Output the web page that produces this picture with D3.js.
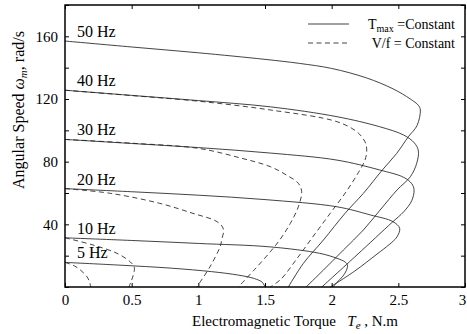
<!DOCTYPE html>
<html>
<head>
<meta charset="utf-8">
<script src="https://cdn.jsdelivr.net/npm/d3@7"></script>
<style>
  body { margin: 0; background: #fff; }
  svg, svg text { font-family: "Liberation Serif", "Times New Roman", "DejaVu Serif", serif; }
  svg { display: block; }
</style>
</head>
<body>
<svg id="chart" width="467" height="334"></svg>
<script>

const FONT = '"Liberation Serif", "Times New Roman", "DejaVu Serif", serif'

// frequency labels, top to bottom
const hzLabels = ['50 Hz', '40 Hz', '30 Hz', '20 Hz', '10 Hz', '5 Hz']

// T_max = constant  ->  [torque N.m, speed rad/s]
const solid50 = [[0,157],[0.5,153.2],[1.0,149.5],[1.5,145.3],[1.76,142.7],[2.0,139.5],[2.26,133.5],[2.46,126.5],[2.59,120],[2.65,116],[2.665,113],[2.64,103],[2.575,95.9],[2.488,85.3],[2.376,74.3],[2.238,59.8],[2.10,47],[1.938,30],[1.788,15.1],[1.675,0]]
const solid40 = [[0,125.6],[0.5,122.3],[1.0,119],[1.54,115],[2.04,108.7],[2.36,102.3],[2.54,97],[2.62,92],[2.65,87],[2.638,79],[2.59,70.4],[2.49,61.9],[2.363,49.1],[2.238,36.4],[2.088,23.6],[1.938,10.8],[1.808,0]]
const solid30 = [[0,94.2],[0.5,91.6],[1.0,89],[1.54,85.5],[2.04,81],[2.36,74.7],[2.54,70],[2.6,66],[2.618,62],[2.6,55],[2.54,48],[2.45,41],[2.19,20.5],[1.926,0]]
const solid20 = [[0,62.8],[0.5,60.8],[1.0,58.6],[1.5,55.8],[2.04,51.2],[2.29,46],[2.46,41.7],[2.51,37.5],[2.49,32],[2.43,27],[2.34,21],[2.17,10],[1.99,0]]
const solid10 = [[0,31.4],[0.5,29.7],[1.0,27.8],[1.54,25.6],[1.91,21.5],[2.04,18.3],[2.10,16],[2.118,14],[2.11,10.5],[2.08,6.5],[2.04,3],[2.01,0]]
const solid5 = [[0,15.7],[0.4,14],[0.8,12],[1.1,9.8],[1.3,7.6],[1.42,5.4],[1.48,3],[1.5,0]]

// V/f = constant (50 Hz is the same as the solid one)
const dashed40 = [[0,125.6],[0.5,122.2],[1.0,118.6],[1.54,113],[2.04,105.5],[2.19,99],[2.25,92.7],[2.263,87.5],[2.25,81],[2.2,73],[2.11,61],[1.98,46],[1.85,31],[1.73,17],[1.62,5],[1.54,0]]
const dashed30 = [[0,94.2],[0.5,91.8],[1.0,88.5],[1.31,82.5],[1.54,76.8],[1.66,71.5],[1.75,66.2],[1.775,61],[1.75,51.2],[1.69,40.6],[1.61,30],[1.54,22.5],[1.42,11],[1.30,0]]
const dashed20 = [[0,62.8],[0.34,59.8],[0.71,53.4],[0.96,47],[1.14,41.7],[1.188,37],[1.175,30],[1.163,25.7],[1.088,13],[0.988,0]]
const dashed10 = [[0,31.4],[0.21,26.8],[0.39,21.5],[0.49,16],[0.52,12.5],[0.51,7],[0.495,3.5],[0.48,0]]
const dashed5 = [[0,15.7],[0.07,13.5],[0.12,10.5],[0.165,6.5],[0.185,3],[0.193,0]]

const xTicks = [0, 0.5, 1, 1.5, 2, 2.5, 3]
const yTicks = [0, 20, 40, 60, 80, 100, 120, 140, 160, 180]
const yLabelled = [40, 80, 120, 160]

const solidCurves = [solid50, solid40, solid30, solid20, solid10, solid5]
const dashedCurves = [dashed40, dashed30, dashed20, dashed10, dashed5]

const svg = d3.select('#chart').attr('font-family', FONT)

const x = d3.scaleLinear().domain([0, 3]).range([65, 465])
const y = d3.scaleLinear().domain([0, 180]).range([287, 5])

const line = d3.line()
    .x(d => x(d[0]))
    .y(d => y(d[1]))
    .curve(d3.curveCatmullRom.alpha(0.5))

// curves
svg.append('g').selectAll('path').data(solidCurves)
    .enter().append('path')
    .attr('d', line)
    .attr('fill', 'none')
    .attr('stroke', '#222')
    .attr('stroke-width', 0.85)

svg.append('g').selectAll('path').data(dashedCurves)
    .enter().append('path')
    .attr('d', line)
    .attr('fill', 'none')
    .attr('stroke', '#222')
    .attr('stroke-width', 0.85)
    .attr('stroke-dasharray', '5,3.5')

// axes, ticks inward
const styleAxis = g => {
    g.attr('font-family', FONT).attr('font-size', 15)
    g.select('.domain').remove()
    g.selectAll('line').attr('stroke', '#000')
    g.selectAll('text').attr('fill', '#000')
}

svg.append('g')
    .attr('transform', `translate(0,${y(0)})`)
    .call(d3.axisBottom(x).tickValues(xTicks).tickSize(-4).tickPadding(7).tickFormat(d3.format('~g')))
    .call(styleAxis)
    .call(g => g.selectAll('text').filter(d => d === 3).attr('dx', -3))

svg.append('g')
    .attr('transform', `translate(0,${y(180)})`)
    .call(d3.axisTop(x).tickValues(xTicks).tickSize(-4).tickFormat(''))
    .call(styleAxis)

svg.append('g')
    .attr('transform', `translate(${x(0)},0)`)
    .call(d3.axisLeft(y).tickValues(yTicks).tickSize(-4).tickPadding(7)
        .tickFormat(d => yLabelled.includes(d) ? d : ''))
    .call(styleAxis)

svg.append('g')
    .attr('transform', `translate(${x(3)},0)`)
    .call(d3.axisRight(y).tickValues(yTicks).tickSize(-4).tickFormat(''))
    .call(styleAxis)

// frame
svg.append('rect')
    .attr('x', x(0)).attr('y', y(180))
    .attr('width', x(3) - x(0)).attr('height', y(0) - y(180))
    .attr('fill', 'none')
    .attr('stroke', '#000')
    .attr('stroke-width', 1.5)

// frequency labels
svg.append('g').selectAll('text').data(hzLabels)
    .enter().append('text')
    .attr('x', x(0.09))
    .attr('y', (d, i) => y(solidCurves[i][0][1]) - 4)
    .attr('font-size', 16)
    .text(d => d)

// axis titles
const xt = svg.append('text')
    .attr('x', 192).attr('y', 326)
    .attr('font-size', 15)
xt.append('tspan').text('Electromagnetic Torque\u00a0\u00a0\u00a0')
xt.append('tspan').attr('font-style', 'italic').text('T')
xt.append('tspan').attr('font-style', 'italic').attr('font-size', 11).attr('dy', 3).text('e')
xt.append('tspan').attr('dy', -3).text('\u00a0, N.m')

const yt = svg.append('text')
    .attr('transform', 'translate(24,110) rotate(-90)')
    .attr('text-anchor', 'middle')
    .attr('font-size', 16)
yt.append('tspan').text('Angular Speed ')
yt.append('tspan').attr('font-style', 'italic').text('ω')
yt.append('tspan').attr('font-style', 'italic').attr('font-size', 11).attr('dy', 3).text('m')
yt.append('tspan').attr('dy', -3).text(', rad/s')

// legend
const legendItems = [
    { dash: null, y: 24 },
    { dash: '5,3.5', y: 43 }
]
svg.append('g').selectAll('line').data(legendItems)
    .enter().append('line')
    .attr('x1', 308).attr('x2', 349)
    .attr('y1', d => d.y).attr('y2', d => d.y)
    .attr('stroke', '#222')
    .attr('stroke-width', 0.85)
    .attr('stroke-dasharray', d => d.dash)

const l1 = svg.append('text')
    .attr('x', 455).attr('y', 29)
    .attr('text-anchor', 'end')
    .attr('font-size', 14)
l1.append('tspan').text('T')
l1.append('tspan').attr('font-size', 10).attr('dy', 3).text('max')
l1.append('tspan').attr('dy', -3).text(' =Constant')

svg.append('text')
    .attr('x', 455).attr('y', 48)
    .attr('text-anchor', 'end')
    .attr('font-size', 14)
    .text('V/f = Constant')

</script>
</body>
</html>
